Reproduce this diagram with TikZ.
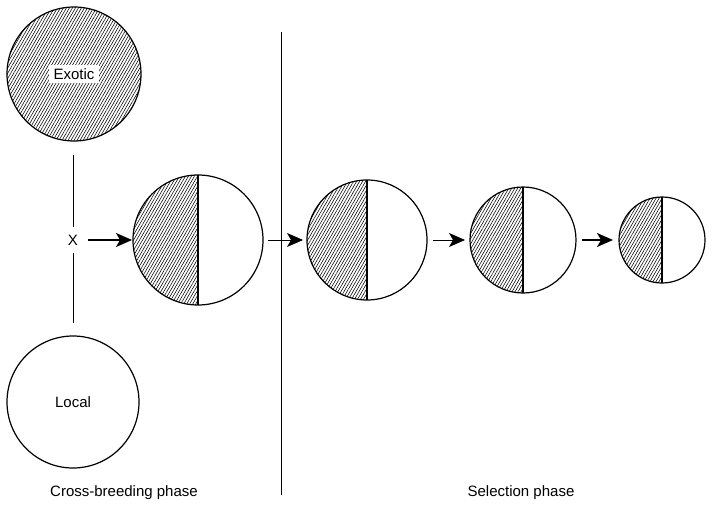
\documentclass[tikz,border=0pt]{standalone}
\usepackage{fontspec}
\setmainfont{Liberation Sans}
\usetikzlibrary{arrows.meta, patterns.meta, positioning}

\tikzstyle{arrow} = [line width=1.6pt, -{Stealth[length=16pt,width=14pt,inset=4pt]}]
\tikzstyle{thinarrow} = [line width=0.9pt, -{Stealth[length=16pt,width=14pt,inset=4pt]}]
\tikzset{
  herd/.style={circle, draw, line width=1.2pt, inner sep=0pt, outer sep=0pt},
  exotic/.style={herd, pattern={Lines[angle=60, distance=2.6pt, line width=0.55pt]}},
  mixed/.style={herd, path picture={
      \fill[pattern={Lines[angle=60, distance=2.6pt, line width=0.55pt]}]
        (path picture bounding box.north west) rectangle (path picture bounding box.south);
      \draw[line width=2.2pt] (path picture bounding box.north) -- (path picture bounding box.south);}},
  phasetext/.style={font=\fontsize{15}{18}\selectfont}
}

\begin{document}
\begin{tikzpicture}[x=1pt, y=-1pt]
  \useasboundingbox (0,0) rectangle (714,513);

  % Parent breeds
  \node[exotic, minimum size=134pt] (exotic) at (74,74) {};
  \node[phasetext, fill=white, inner xsep=5pt, inner ysep=3pt] (exotictext) at (exotic) {Exotic};
  \node[herd, minimum size=132pt, phasetext] (local) at (73,402) {Local};

  % Cross between them
  \node[phasetext, inner xsep=4pt, inner ysep=8pt] (xmark) at (73,240) {X};
  \coordinate (stemtop) at (73,155);
  \coordinate (stembot) at (73,323);
  \draw[line width=0.8pt] (stemtop) -- (xmark);
  \draw[line width=0.8pt] (xmark) -- (stembot);

  % Crossbred generations
  \node[mixed, minimum size=130pt] (gen1) at (198,240) {};
  \node[mixed, minimum size=120pt] (gen2) at (367,240) {};
  \node[mixed, minimum size=106pt] (gen3) at (523,240) {};
  \node[mixed, minimum size=86pt] (gen4) at (662,240) {};

  \draw[arrow, shorten <=6pt, shorten >=1pt] (xmark) -- (gen1);
  \draw[thinarrow, shorten <=5pt, shorten >=4pt] (gen1) -- (gen2);
  \draw[thinarrow, shorten <=6pt, shorten >=5pt] (gen2) -- (gen3);
  \draw[arrow, shorten <=6pt, shorten >=6pt] (gen3) -- (gen4);

  % Phase divider
  \coordinate (phasetop) at (281,32);
  \coordinate (phasebot) at (281,495);
  \draw[line width=0.8pt] (phasetop) -- (phasebot);

  \node[phasetext] (crossphase) at (124,493) {Cross-breeding phase};
  \node[phasetext] (selphase) at (521,493) {Selection phase};
\end{tikzpicture}
\end{document}
